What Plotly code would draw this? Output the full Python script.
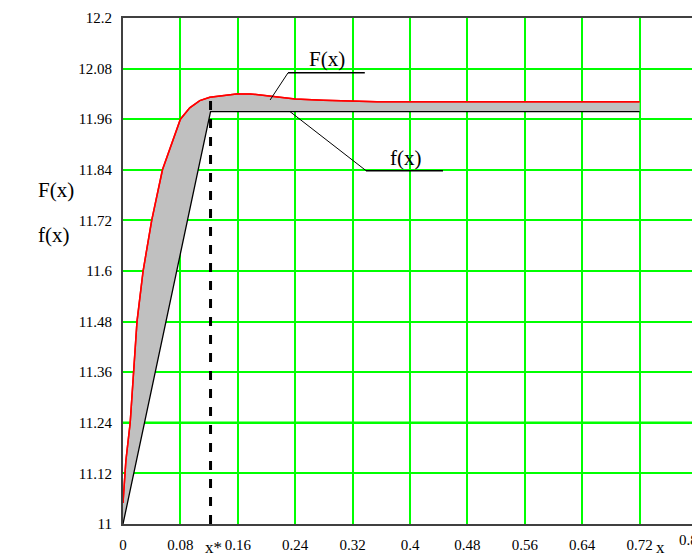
import plotly.graph_objects as go

# Data
F_x = [0, 0.002, 0.004, 0.01, 0.0145, 0.0195, 0.028, 0.040, 0.055, 0.067, 0.080,
       0.093, 0.107, 0.121, 0.14, 0.158, 0.177, 0.209, 0.24, 0.279, 0.354, 0.45, 0.55, 0.65, 0.72]
F_y = [11.05, 11.10, 11.15, 11.24, 11.36, 11.48, 11.60, 11.72, 11.84, 11.90, 11.96,
       11.987, 12.004, 12.012, 12.017, 12.02, 12.02, 12.013, 12.008, 12.005, 12.0016, 12.0016, 12.0016, 12.0016, 12.0016]
f_x = [0, 0.122, 0.72]
f_y = [11.0, 11.978, 11.978]
x_star = 0.122
x_star_top = 12.011

x_ticks = [0, 0.08, 0.16, 0.24, 0.32, 0.4, 0.48, 0.56, 0.64, 0.72, 0.8]
x_tick_text = ["0", "0.08", "0.16", "0.24", "0.32", "0.4", "0.48", "0.56", "0.64", "0.72", "0.8"]
y_ticks = [11, 11.12, 11.24, 11.36, 11.48, 11.6, 11.72, 11.84, 11.96, 12.08, 12.2]
y_tick_text = ["11", "11.12", "11.24", "11.36", "11.48", "11.6", "11.72", "11.84", "11.96", "12.08", "12.2"]

SERIF = "Liberation Serif, Times New Roman, serif"

fig = go.Figure()
fig.add_trace(go.Scatter(x=F_x, y=F_y, mode="lines", line=dict(color="#FF0000", width=1.5),
                         showlegend=False, hoverinfo="skip"))
fig.add_trace(go.Scatter(x=f_x, y=f_y, mode="lines", line=dict(color="#000000", width=1.3),
                         fill="tonexty", fillcolor="#C0C0C0", showlegend=False, hoverinfo="skip"))
# redraw red on top of fill
fig.add_trace(go.Scatter(x=F_x, y=F_y, mode="lines", line=dict(color="#FF0000", width=1.5),
                         showlegend=False, hoverinfo="skip"))
# dashed x* line
fig.add_trace(go.Scatter(x=[x_star, x_star], y=[11.0, x_star_top], mode="lines",
                         line=dict(color="#000000", width=3, dash="dash"),
                         showlegend=False, hoverinfo="skip"))

# thicker grid line at 11.24
fig.add_shape(type="line", xref="x", yref="y", x0=0, x1=0.8, y0=11.24, y1=11.24,
              line=dict(color="#00FF00", width=2.5), layer="below")

# leader lines for labels
fig.add_shape(type="line", x0=0.230, x1=0.337, y0=12.070, y1=12.070, line=dict(color="black", width=1.5))
fig.add_shape(type="line", x0=0.230, x1=0.205, y0=12.070, y1=12.0055, line=dict(color="black", width=1))
fig.add_shape(type="line", x0=0.3387, x1=0.446, y0=11.838, y1=11.838, line=dict(color="black", width=1.5))
fig.add_shape(type="line", x0=0.3387, x1=0.2328, y0=11.838, y1=11.978, line=dict(color="black", width=1))

fig.add_annotation(x=0.2843, y=12.103, text="F(x)", showarrow=False,
                   font=dict(family=SERIF, size=21, color="black"))
fig.add_annotation(x=0.3944, y=11.868, text="f(x)", showarrow=False,
                   font=dict(family=SERIF, size=21, color="black"))
fig.add_annotation(xref="paper", yref="paper", x=-0.1516, y=0.6877, text="F(x)", showarrow=False,
                   font=dict(family=SERIF, size=21, color="black"))
fig.add_annotation(xref="paper", yref="paper", x=-0.1516, y=0.571, text="f(x)", showarrow=False,
                   font=dict(family=SERIF, size=21, color="black"))
fig.add_annotation(xref="paper", yref="paper", x=0.140, y=-0.0692, yanchor="bottom", text="x*",
                   showarrow=False, font=dict(family=SERIF, size=17, color="black"))
fig.add_annotation(xref="paper", yref="paper", x=0.948, y=-0.0692, yanchor="bottom", text="x",
                   showarrow=False, font=dict(family=SERIF, size=17, color="black"))

# last x tick label kept inside the figure (right-anchored at the axis end)
shown_x_text = x_tick_text[:-1] + [""]
fig.add_annotation(x=x_ticks[-1], xref="x", yref="paper", y=-0.0119, yanchor="top", xanchor="right",
                   xshift=3, text=x_tick_text[-1], showarrow=False,
                   font=dict(family=SERIF, size=15, color="black"))

fig.update_xaxes(range=[0, 0.8], tickvals=x_ticks, ticktext=shown_x_text, automargin=False,
                 showgrid=True, gridcolor="#00FF00", gridwidth=1.5, zeroline=False,
                 showline=True, linecolor="#404040", linewidth=2, mirror=True,
                 ticks="", ticklabelstandoff=6,
                 tickfont=dict(family=SERIF, size=15, color="black"))
fig.update_yaxes(range=[11, 12.2], tickvals=y_ticks, ticktext=y_tick_text, automargin=False,
                 showgrid=True, gridcolor="#00FF00", gridwidth=1.5, zeroline=False,
                 showline=True, linecolor="#404040", linewidth=2, mirror=True,
                 ticks="", ticklabelstandoff=6,
                 tickfont=dict(family=SERIF, size=15, color="black"))

# page body has an 8px margin, so the figure is offset by (8, 8)
fig.update_layout(width=692, height=552, margin=dict(l=115, r=3, t=10, b=36),
                  plot_bgcolor="white", paper_bgcolor="white")

fig.write_html("out.html")
